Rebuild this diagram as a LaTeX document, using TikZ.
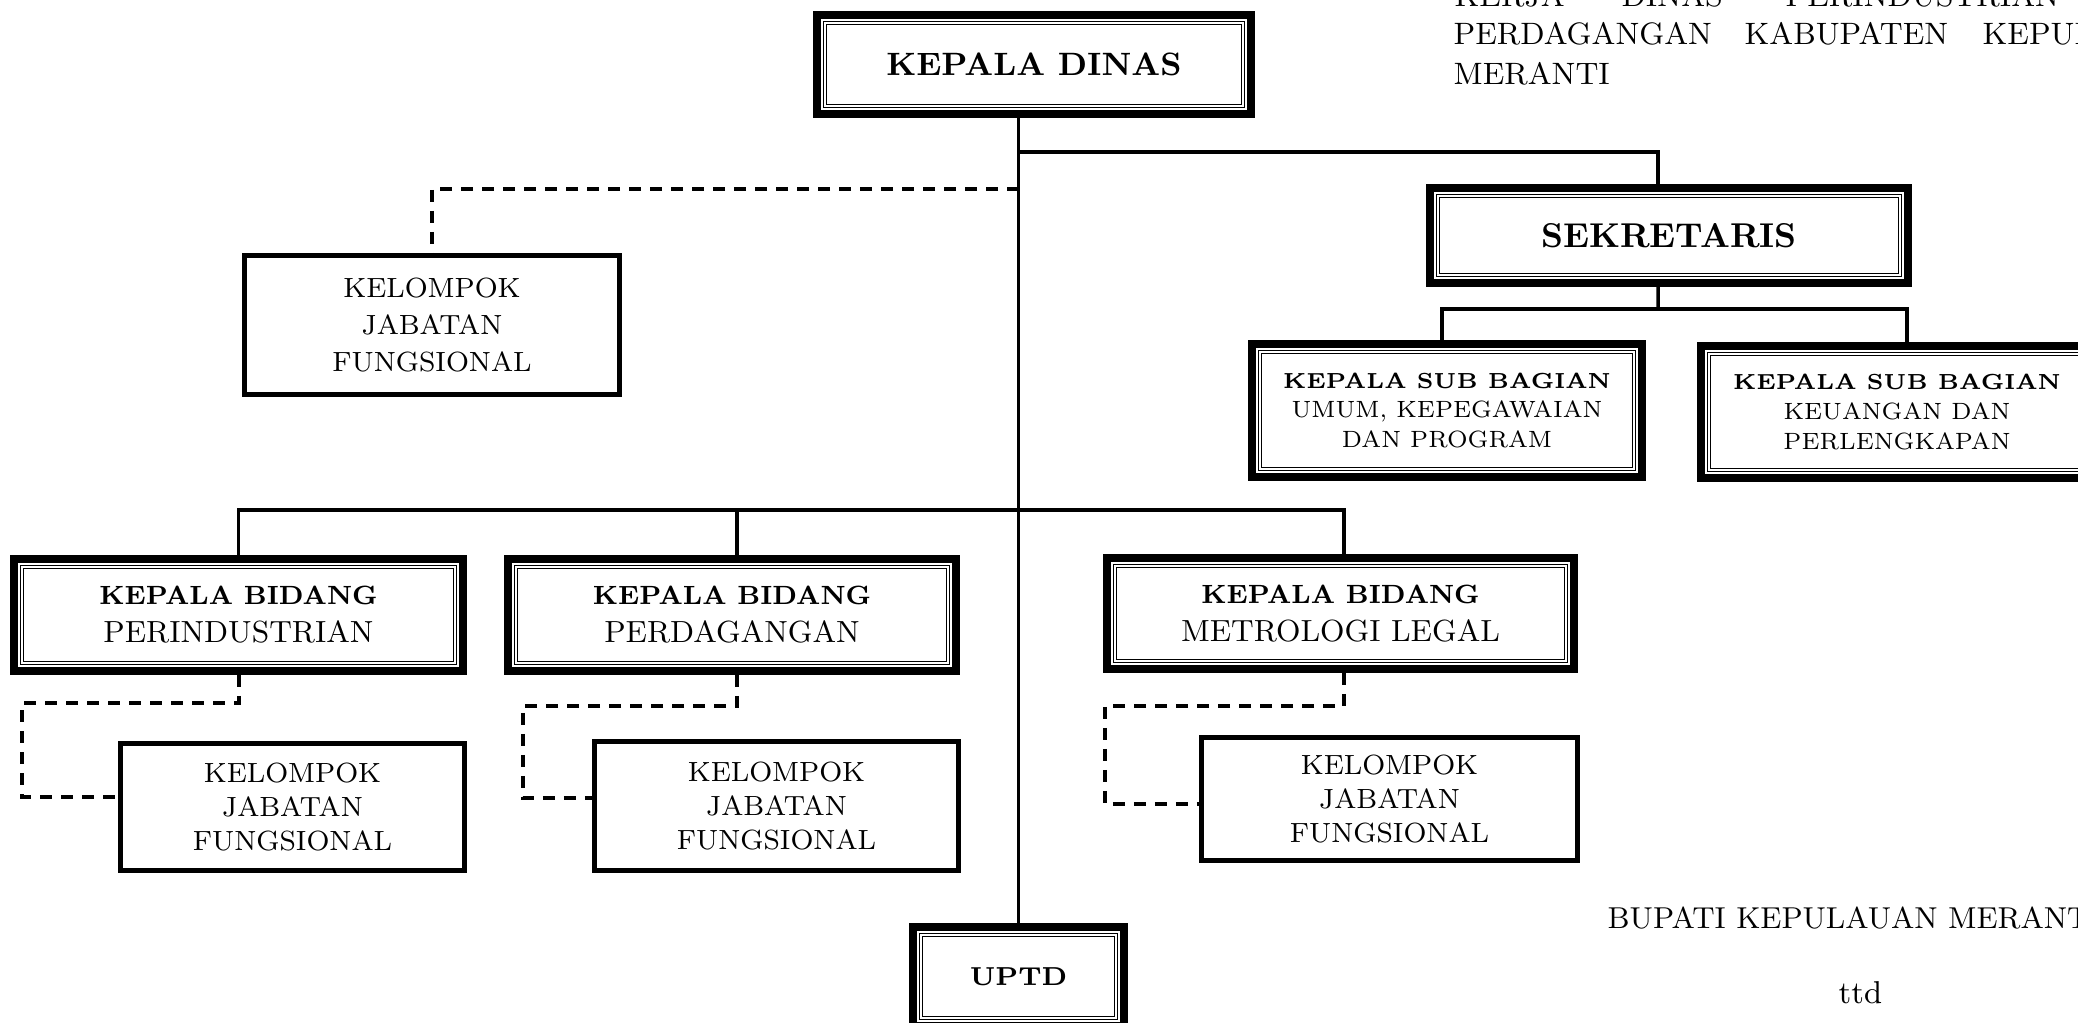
\documentclass[tikz,border=0pt]{standalone}

\begin{document}
\begin{tikzpicture}[
  jabatan/.style={draw, line width=0.08cm, align=center, inner sep=1pt,
    path picture={\draw[line width=0.012cm, double, double distance=0.016cm]
      ([shift={(0.08cm,0.08cm)}]path picture bounding box.south west) rectangle
      ([shift={(-0.08cm,-0.08cm)}]path picture bounding box.north east);}},
  kelompok/.style={draw, line width=0.05cm, align=center, inner sep=1pt,
    font=\fontsize{7.9}{9.7}\selectfont},
  garis/.style={line width=0.035cm},
  putus/.style={line width=0.04cm, dash pattern=on 0.12cm off 0.09cm},
  teks/.style={anchor=base west, inner sep=0pt, font=\fontsize{8.8}{11}\selectfont}
]
  \useasboundingbox (0,0) rectangle (20.78,-10.23);
  \clip (0,0) rectangle (20.78,-10.23);

  % pimpinan dan sekretariat
  \node[jabatan, minimum width=4.34cm, minimum height=0.99cm,
    font=\bfseries\fontsize{9.2}{10}\selectfont] (kadis) at (10.34,-0.645) {KEPALA DINAS};
  \node[jabatan, minimum width=4.78cm, minimum height=0.95cm,
    font=\bfseries\fontsize{9.8}{11}\selectfont] (sek) at (16.69,-2.355) {SEKRETARIS};
  \node[jabatan, minimum width=3.90cm, minimum height=1.33cm,
    font=\fontsize{6.7}{8.5}\selectfont] (sub1) at (14.47,-4.105)
    {{\bfseries\fontsize{6.2}{8.5}\selectfont KEPALA SUB BAGIAN}\\UMUM, KEPEGAWAIAN\\DAN PROGRAM};
  \node[jabatan, minimum width=3.92cm, minimum height=1.32cm,
    font=\fontsize{6.7}{8.5}\selectfont] (sub2) at (18.97,-4.12)
    {{\bfseries\fontsize{6.2}{8.5}\selectfont KEPALA SUB BAGIAN}\\KEUANGAN DAN\\PERLENGKAPAN};
  \node[kelompok, minimum width=3.75cm, minimum height=1.39cm,
    font=\fontsize{7.9}{10.6}\selectfont] (kjf0) at (4.32,-3.25)
    {KELOMPOK\\JABATAN\\FUNGSIONAL};

  % bidang
  \node[jabatan, minimum width=4.49cm, minimum height=1.12cm,
    font=\fontsize{8.7}{10.8}\selectfont] (bid1) at (2.385,-6.15)
    {{\bfseries\fontsize{7.5}{10.8}\selectfont KEPALA BIDANG}\\PERINDUSTRIAN};
  \node[jabatan, minimum width=4.48cm, minimum height=1.12cm,
    font=\fontsize{8.7}{10.8}\selectfont] (bid2) at (7.32,-6.15)
    {{\bfseries\fontsize{7.5}{10.8}\selectfont KEPALA BIDANG}\\PERDAGANGAN};
  \node[jabatan, minimum width=4.67cm, minimum height=1.11cm,
    font=\fontsize{8.7}{10.8}\selectfont] (bid3) at (13.405,-6.135)
    {{\bfseries\fontsize{7.5}{10.8}\selectfont KEPALA BIDANG}\\METROLOGI LEGAL};

  % kelompok jabatan fungsional tiap bidang
  \node[kelompok, minimum width=3.44cm, minimum height=1.27cm] (kjf1) at (2.925,-8.07)
    {KELOMPOK\\JABATAN\\FUNGSIONAL};
  \node[kelompok, minimum width=3.64cm, minimum height=1.29cm] (kjf2) at (7.765,-8.06)
    {KELOMPOK\\JABATAN\\FUNGSIONAL};
  \node[kelompok, minimum width=3.76cm, minimum height=1.23cm] (kjf3) at (13.895,-7.99)
    {KELOMPOK\\JABATAN\\FUNGSIONAL};

  \node[jabatan, minimum width=2.11cm, minimum height=0.99cm,
    font=\bfseries\fontsize{7.4}{10}\selectfont] (uptd) at (10.185,-9.765) {UPTD};

  % garis komando
  \draw[garis] (kadis.south -| uptd.north) -- (uptd.north);
  \coordinate (cabSek) at (10.19,-1.52);
  \draw[garis] (cabSek) -| ([xshift=-0.11cm]sek.north);
  \coordinate (busSek) at (16.58,-3.09);
  \draw[garis] ([xshift=-0.11cm]sek.south) -- (busSek);
  \draw[garis] ([xshift=-0.05cm]sub1.north) |- (busSek) -| ([xshift=0.10cm]sub2.north);
  \coordinate (busBid) at (10.19,-5.10);
  \draw[garis] (bid1.north) |- (busBid) -| ([xshift=0.035cm]bid3.north);
  \draw[garis] ([xshift=0.05cm]bid2.north) -- ([xshift=0.05cm]bid2.north |- busBid);

  % garis koordinasi
  \coordinate (cabKjf) at (10.19,-1.89);
  \draw[putus] (cabKjf) -| (kjf0.north);
  \draw[putus] (bid1.south) |- (0.22,-7.03) |- ([yshift=0.10cm]kjf1.west);
  \draw[putus] ([xshift=0.05cm]bid2.south) |- (5.23,-7.06) |- ([yshift=0.08cm]kjf2.west);
  \draw[putus] ([xshift=0.035cm]bid3.south) |- (11.05,-7.06) |- ([yshift=-0.05cm]kjf3.west);

  % judul dan pengesahan
  \node[teks] (judulA) at (14.54,-0.07) {KERJA};
  \node[teks] (judulB) at (16.21,-0.07) {DINAS};
  \node[teks] (judulC) at (17.85,-0.07) {PERINDUSTRIAN};
  \node[teks] (judulD) at (14.53,-0.45) {PERDAGANGAN};
  \node[teks] (judulE) at (17.44,-0.45) {KABUPATEN};
  \node[teks] (judulF) at (19.82,-0.45) {KEPULAUAN};
  \node[teks] (judulG) at (14.53,-0.85) {MERANTI};
  \node[teks, font=\fontsize{8.6}{11}\selectfont] (bupati) at (16.07,-9.29) {BUPATI KEPULAUAN MERANTI};
  \node[teks, font=\fontsize{9}{11}\selectfont] (ttd) at (18.38,-10.04) {ttd};
\end{tikzpicture}
\end{document}
